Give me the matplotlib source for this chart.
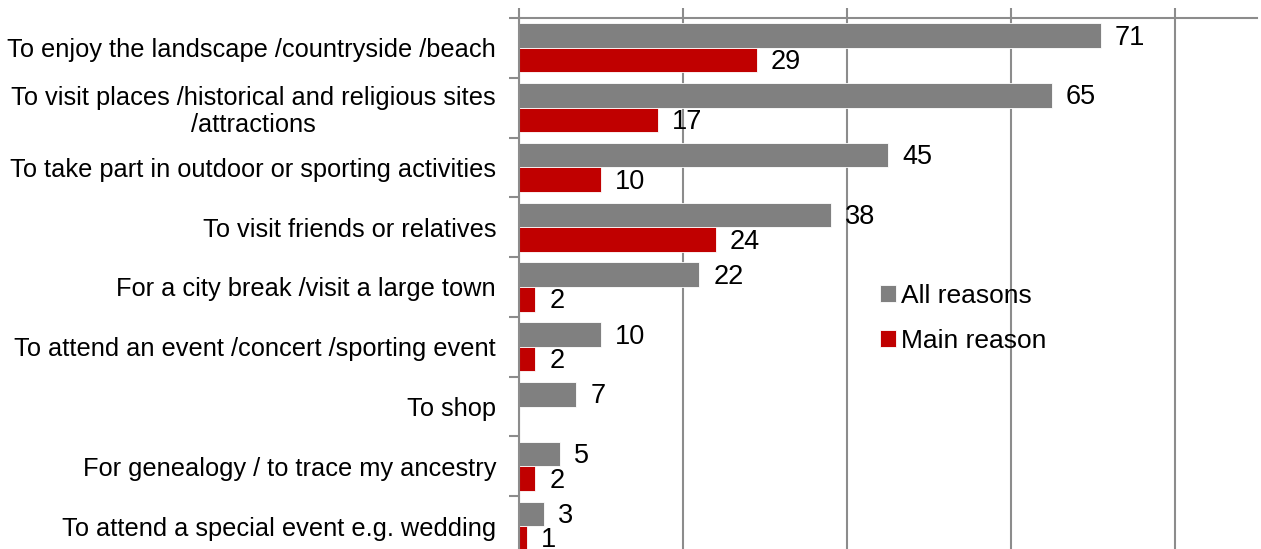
import numpy as np
import matplotlib.pyplot as plt

plt.rcParams['font.family'] = ['Liberation Sans', 'DejaVu Sans']

categories = [
    'To enjoy the landscape /countryside /beach',
    'To visit places /historical and religious sites\n/attractions',
    'To take part in outdoor or sporting activities',
    'To visit friends or relatives',
    'For a city break /visit a large town',
    'To attend an event /concert /sporting event',
    'To shop',
    'For genealogy / to trace my ancestry',
    'To attend a special event e.g. wedding',
]
all_reasons = [71, 65, 45, 38, 22, 10, 7, 5, 3]
main_reason = [29, 17, 10, 24, 2, 2, None, 2, 1]

GREY = '#808080'
RED = '#C00000'
AXIS = '#8C8C8C'
FS = 18.3      # category labels
FS_VAL = 19.5  # data labels
FS_LEG = 19

fig = plt.figure(figsize=(12.61, 5.49), dpi=100)
ax = fig.add_axes([519 / 1261, 1 - 556 / 549, 738 / 1261, 538 / 549])

y = np.arange(len(categories))
h = 0.41
main_vals = [v if v is not None else 0 for v in main_reason]

ax.barh(y - h / 2, all_reasons, height=h, color=GREY, label='All reasons',
        edgecolor='white', linewidth=0.6)
ax.barh(y + h / 2, main_vals, height=h, color=RED, label='Main reason',
        edgecolor='white', linewidth=0.6)

# value labels, a touch below bar centre like the original
for yi, v in zip(y, all_reasons):
    ax.annotate(str(v), (v, yi - h / 2), xytext=(10, -1.5), textcoords='offset points',
                ha='left', va='center', fontsize=FS_VAL)
for yi, v in zip(y, main_reason):
    if v is None:
        continue
    ax.annotate(str(v), (v, yi + h / 2), xytext=(10, -1.5), textcoords='offset points',
                ha='left', va='center', fontsize=FS_VAL)

ax.set_xlim(0, 90)
ax.set_ylim(len(categories) - 0.5, -0.5)

ax.xaxis.tick_top()
ax.set_xticks([0, 20, 40, 60, 80])
ax.set_xticklabels([])
ax.tick_params(axis='x', direction='out', length=7, width=1.5, color=AXIS)
ax.grid(axis='x', color=AXIS, linewidth=1.5)
ax.set_axisbelow(True)

ax.set_yticks(y)
ax.set_yticklabels(categories, fontsize=FS, multialignment='center',
                   linespacing=1.15)
ax.set_yticks(np.arange(len(categories) + 1) - 0.5, minor=True)
ax.tick_params(axis='y', which='major', length=0, pad=16.5)
ax.tick_params(axis='y', which='minor', direction='out', length=7, width=1.5, color=AXIS)

for side in ['right', 'bottom']:
    ax.spines[side].set_visible(False)
for side in ['top', 'left']:
    ax.spines[side].set_color(AXIS)
    ax.spines[side].set_linewidth(1.5)

ax.legend(loc='upper left', bbox_to_anchor=(880 / 1261, 1 - 284 / 549),
          bbox_transform=fig.transFigure, frameon=False, fontsize=FS_LEG,
          handlelength=0.6, handleheight=0.6, handletextpad=0.2,
          labelspacing=0.78, borderpad=0, borderaxespad=0)

fig.savefig('out.png', dpi=100)
